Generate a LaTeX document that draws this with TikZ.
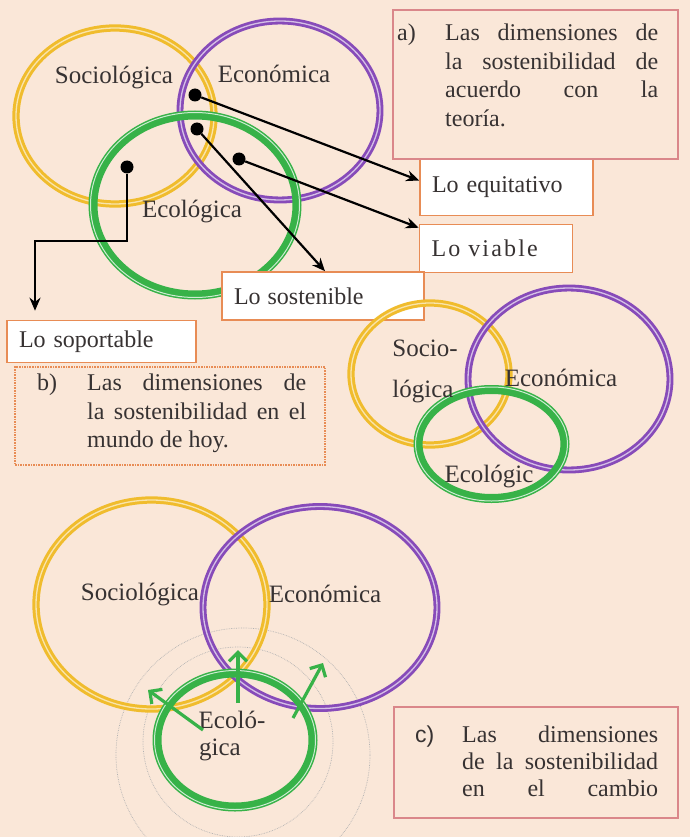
\documentclass[tikz,border=0pt]{standalone}
\usepackage{fontspec}
\setmainfont{Liberation Serif}
\newfontfamily\tagfont{Liberation Sans}
\usetikzlibrary{arrows.meta,positioning}

\definecolor{peach}{RGB}{250,231,216}
\definecolor{ringyellow}{RGB}{240,188,45}
\definecolor{ringpurple}{RGB}{135,75,185}
\definecolor{ringgreen}{RGB}{55,178,72}
\definecolor{leaforange}{RGB}{232,140,85}
\definecolor{notepink}{RGB}{218,135,138}
\definecolor{ink}{RGB}{55,50,50}

\begin{document}
\begin{tikzpicture}[x=1pt, y=-1pt, font=\fontsize{24}{28.5}\selectfont, text=ink,
    yelring/.style={draw=ringyellow, double=ringyellow!40, line width=3pt, double distance=1.3pt},
    purring/.style={draw=ringpurple, double=ringpurple!35, line width=2.8pt, double distance=1.3pt},
    grnring/.style={draw=ringgreen, line width=9pt},
    grnshine/.style={draw=ringgreen!25, line width=1pt},
    halo/.style={draw=gray!60, densely dotted, line width=0.7pt},
    dimlabel/.style={font=\fontsize{25}{28}\selectfont, inner sep=0pt},
    blackdot/.style={circle, fill=black, minimum size=13pt, inner sep=0pt},
    leafbox/.style={draw=leaforange, fill=white, line width=1.6pt, inner xsep=12pt, align=left},
    notebox/.style={draw=notepink, line width=1.6pt},
    bodytext/.style={anchor=north west, inner sep=0pt, align=justify},
    pointer/.style={-{Stealth[length=13pt,width=11pt]}, line width=2.2pt},
    growth/.style={-{Straight Barb[length=9pt,width=18pt]}, draw=ringgreen, line width=3.2pt}]

    \useasboundingbox (0,0) rectangle (690,837);
    \fill[peach] (0,0) rectangle (690,837);

    % a) teoria
    \draw[yelring] (115,116) ellipse [x radius=99pt, y radius=88pt];
    \draw[purring] (280,110.5) ellipse [x radius=100pt, y radius=89.5pt];
    \draw[grnring] (195,205) ellipse [x radius=102pt, y radius=90pt];
    \draw[grnshine] (195,205) ellipse [x radius=104.5pt, y radius=92.5pt];
    \node[dimlabel] (socA) at (114,78) {Sociológica};
    \node[dimlabel] (ecoA) at (274,74) {Económica};
    \node[dimlabel] (ecolA) at (192,212) {Ecológica};

    \node[blackdot] (pa) at (195,95) {};
    \node[blackdot] (pb) at (197,129) {};
    \node[blackdot] (pc) at (239,159) {};
    \node[blackdot] (pd) at (127,167) {};

    \node[leafbox, text width=149pt, minimum height=56pt] (equi) at (506.5,187.5) {Lo equitativo};
    \node[leafbox, text width=129pt, minimum height=48pt] (viable) at (496,248.5) {\addfontfeature{LetterSpace=9}Lo viable};
    \node[leafbox, text width=178pt, minimum height=48pt] (sost) at (323,296) {Lo\hspace{7pt}sostenible};
    \node[leafbox, text width=165pt, minimum height=42pt] (soport) at (101.5,341.5) {Lo soportable};

    \coordinate (bend) at (35,241);
    \draw[pointer] (pa) -- ([yshift=7pt]equi.west);
    \draw[pointer] (pc) -- ([yshift=-4pt]viable.north west);
    \draw[pointer] (pb) -- ([xshift=2pt]sost.north);
    \draw[pointer, shorten >=9pt] (pd) |- (bend) -- (bend |- soport.north);

    \node[notebox, minimum width=285pt, minimum height=149pt] (boxa) at (535.5,84.5) {};
    \node[anchor=north west, inner sep=0pt] (taga) at (397,24) {a)};
    \node[bodytext, text width=213pt] (texta) at (445,24)
        {Las dimensiones de\linebreak la sostenibilidad de\linebreak acuerdo con la\linebreak teoría.};

    % b) mundo de hoy
    \node[notebox, draw=leaforange, densely dotted, minimum width=310pt, minimum height=98pt] (boxb) at (170,416) {};
    \node[anchor=north west, inner sep=0pt] (tagb) at (37,374) {b)};
    \node[bodytext, text width=219pt] (textb) at (87,374)
        {Las dimensiones de\linebreak la sostenibilidad en el\linebreak mundo de hoy.};

    \draw[yelring] (430,374) ellipse [x radius=79pt, y radius=71pt];
    \draw[purring] (569,379) ellipse [x radius=101pt, y radius=91pt];
    \draw[grnring] (491.5,444) ellipse [x radius=73.5pt, y radius=54.5pt];
    \draw[grnshine] (491.5,444) ellipse [x radius=76pt, y radius=57pt];
    \node[dimlabel] (socB1) at (425,348) {Socio-};
    \node[dimlabel] (socB2) at (423,392) {lógica};
    \node[dimlabel] (ecoB) at (561,378) {Económica};
    \node[dimlabel] (ecolB) at (489,477) {Ecológic};

    % c) el cambio
    \draw[halo] (243,755) circle [radius=127pt];
    \draw[halo] (238,742) circle [radius=95pt];
    \draw[yelring] (151.5,604.5) ellipse [x radius=115.5pt, y radius=104.5pt];
    \draw[purring] (320,607.5) ellipse [x radius=117pt, y radius=101pt];
    \draw[grnring] (235,740) ellipse [x radius=78pt, y radius=67pt];
    \draw[grnshine] (235,740) ellipse [x radius=80.5pt, y radius=69.5pt];
    \node[dimlabel] (socC) at (140,594) {Sociológica};
    \node[dimlabel] (ecoC) at (325,594) {Económica};
    \node[dimlabel] (ecolC1) at (232,720) {Ecoló-};
    \node[dimlabel] (ecolC2) at (220,750) {gica};

    \coordinate (g1) at (203,730);
    \coordinate (g1tip) at (148,690);
    \coordinate (g2) at (238,703);
    \coordinate (g2tip) at (238,650);
    \coordinate (g3) at (293,718);
    \coordinate (g3tip) at (323,663);
    \draw[growth] (g1) -- (g1tip);
    \draw[growth] (g2) -- (g2tip);
    \draw[growth] (g3) -- (g3tip);

    \node[notebox, minimum width=284pt, minimum height=111pt] (boxc) at (536,762.5) {};
    \node[anchor=north west, inner sep=0pt, font=\tagfont\fontsize{23}{28}\selectfont] (tagc) at (415,726) {c)};
    \node[bodytext, text width=196pt, font=\fontsize{24}{27}\selectfont] (textc) at (462,726)
        {Las dimensiones\linebreak de la sostenibilidad\linebreak en\hfill el\hfill cambio};
\end{tikzpicture}
\end{document}
